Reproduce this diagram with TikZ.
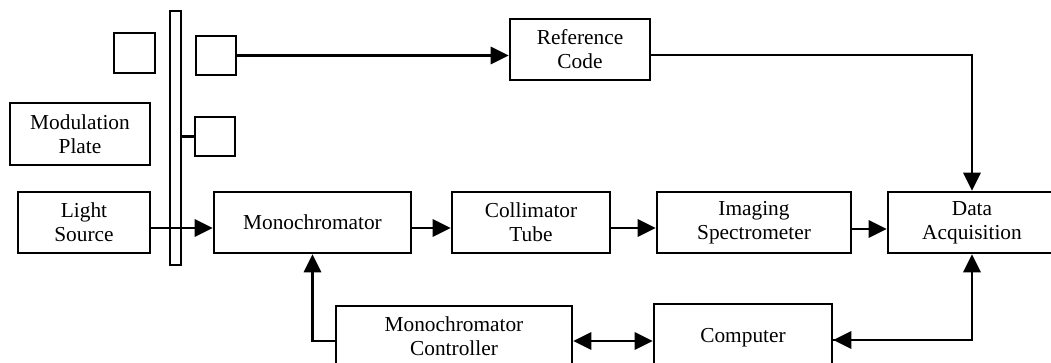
\documentclass[tikz,border=0pt]{standalone}
\usepackage{fontspec}
\setmainfont{Liberation Serif}
\usetikzlibrary{arrows.meta}
\begin{document}
\begin{tikzpicture}[x=0.75pt,y=-0.75pt,
 box/.style={draw,line width=1.9pt,inner sep=0pt,align=center,font=\fontsize{16}{18}\selectfont},
 conn/.style={line width=1.7pt},
 arr/.style={conn,-{Triangle[length=13.5pt,width=13pt]}},
 darr/.style={conn,{Triangle[length=13.5pt,width=13pt]}-{Triangle[length=13.5pt,width=13pt]}}]
\useasboundingbox (0,0) rectangle (1051,362);
\clip (0,0) rectangle (1051,362);
% modulation plate parts
\node[box,minimum width=30.75pt,minimum height=30pt] (sq1) at (134.5,53) {};
\node[box,minimum width=8.25pt,minimum height=190.5pt] (bar) at (175.5,138) {};
\node[box,minimum width=30pt,minimum height=29.25pt] (sq2) at (216,55.5) {};
\node[box,minimum width=30pt,minimum height=29.25pt] (sq3) at (215,136.5) {};
\node[box,minimum width=105pt,minimum height=46.5pt] (mod) at (80,134) {Modulation\\Plate};
\node[box,minimum width=99pt,minimum height=45.75pt] (light) at (84,222.5) {Light\\Source};
% main chain
\node[box,minimum width=147.75pt,minimum height=45.75pt] (mono) at (312.5,222.5) {Monochromator};
\node[box,minimum width=118.5pt,minimum height=45.75pt] (coll) at (531,222.5) {Collimator\\Tube};
\node[box,minimum width=145.5pt,minimum height=45.75pt] (imag) at (754,222.5) {Imaging\\Spectrometer};
\node[box,minimum width=126pt,minimum height=45.75pt] (da) at (972,222.5) {Data\\Acquisition};
\node[box,minimum width=105pt,minimum height=45.75pt] (ref) at (580,49.5) {Reference\\Code};
\node[box,minimum width=177pt,minimum height=45.75pt] (ctrl) at (454,336.5) {Monochromator\\Controller};
\node[box,minimum width=133.5pt,minimum height=51pt] (comp) at (743,338) {Computer};
% connectors
\draw[conn] (bar.east |- sq3.west) -- (sq3.west);
\draw[arr] (light.east |- 0,228) -- (mono.west |- 0,228);
\draw[arr] (mono.east |- 0,228) -- (coll.west |- 0,228);
\draw[arr] (coll.east |- 0,228) -- (imag.west |- 0,228);
\draw[arr] (imag.east |- 0,229) -- (da.west |- 0,229);
\draw[arr] (sq2.east) -- (sq2.east -| ref.west);
\coordinate (rc) at (da.north |- 0,55);
\draw[arr] (ref.east |- rc) -- (rc) -- (da.north);
\coordinate (cd) at (da.south |- 0,340);
\draw[arr] (comp.east |- cd) -- (cd) -- (da.south);
\draw[arr] (cd) -- (comp.east |- cd);
\draw[darr] (ctrl.east |- 0,341) -- (comp.west |- 0,341);
\coordinate (cm) at (mono.south |- 0,341);
\draw[arr] (ctrl.west |- cm) -- (cm) -- (mono.south);
\end{tikzpicture}
\end{document}
